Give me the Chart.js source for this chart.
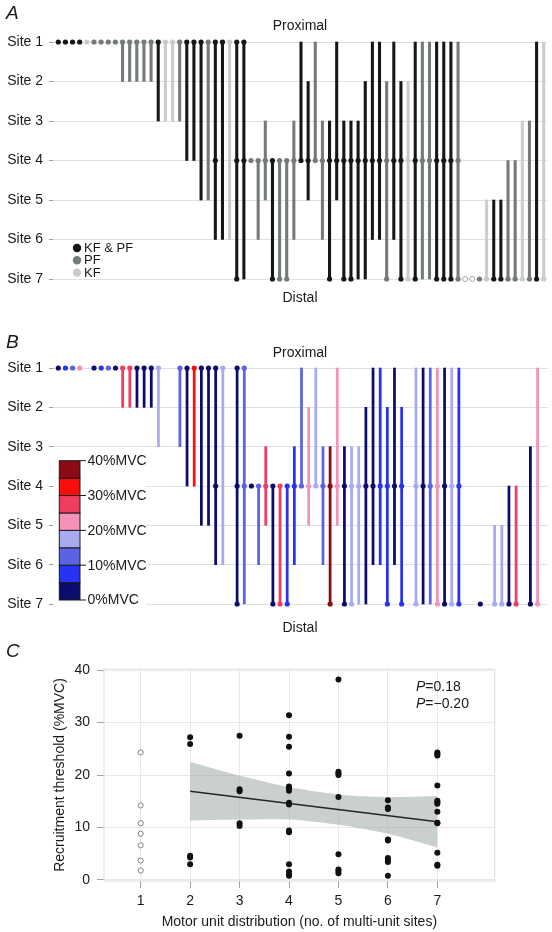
<!DOCTYPE html>
<html lang="en">
<head>
<meta charset="utf-8">
<title>Motor unit distribution</title>
<script src="https://cdn.jsdelivr.net/npm/chart.js@4.4.1/dist/chart.umd.min.js"></script>
<style>
  body { margin: 0; background: #fff; }
  .wrap { position: relative; width: 552px; height: 932px; }
  canvas { position: absolute; left: 0; }
</style>
</head>
<body>
<div class="wrap">
  <canvas id="chartA" width="552" height="318" style="top:0"></canvas>
  <canvas id="chartB" width="552" height="310" style="top:326px"></canvas>
  <canvas id="chartC" width="552" height="296" style="top:636px"></canvas>
</div>
<script>
// ---- panel A / B : one entry per motor unit (column) ----
const siteNums = [1, 2, 3, 4, 5, 6, 7];
const unitTop = [1,1,1,1,1,1,1,1,1, 1,1,1,1,1, 1,1,1,1, 1,1,1,1, 1,1,1, 1,1,
  4,4,3, 4,4,4, 3,1,2,1,3, 3,1,3,3,3,2, 1,1,2,1,2,2, 1,1,1,1,1,1,1,
  7,7,7, 5,5,5, 4,4, 3,3, 1,1];
const unitBottom = [1,1,1,1,1,1,1,1,1, 2,2,2,2,2, 3,3,3,3, 4,4,5,5, 6,6,6, 7,7,
  4,6,5, 7,7,7, 6,4,5,4,6, 7,5,7,7,7,7, 6,6,7,6,7,7, 7,7,7,7,7,7,7,
  7,7,7, 7,7,7, 7,7, 7,7, 7,7];
// 0 = KF & PF, 1 = PF, 2 = KF, 3 = open
const unitGroup = [0,0,0,0,2,1,1,1,1, 1,1,1,1,1, 0,2,2,1, 0,0,0,1, 0,0,2, 0,0,
  1,1,1, 0,1,1, 1,0,0,1,1, 0,0,0,0,0,0, 0,0,1,0,0,2, 0,1,1,0,0,0,1,
  3,3,1, 2,0,0, 1,1, 2,1, 0,2];
const unitDots = [[1],[1],[1],[1],[1],[1],[1],[1],[1], [1],[1],[1],[1],[1], [1],[1],[1],[1],
  [1],[1],[1],[1], [1,4],[1],[1], [1,4,7],[1,4],
  [4],[4],[4], [4,7],[4,7],[4,7], [4],[4],[4],[4],[4], [4,7],[4],[4,7],[4,7],[4],[4],
  [4],[4],[4,7],[4],[4,7],[4,7], [4,7],[4],[4],[4,7],[4,7],[4,7],[4,7],
  [7],[7],[7], [7],[7],[7], [7],[7], [7],[7], [7],[7]];
// recruitment threshold (%MVC) shown in panel B, null = not recorded
const unitThreshold = [2.5,7.5,12.5,22.5,null,2.5,7.5,12.5,2.5, 27.5,27.5,2.5,2.5,2.5,
  17.5,null,null,12.5, 2.5,32.5,2.5,2.5, 2.5,17.5,null, 2.5,12.5,
  2.5,12.5,27.5, 2.5,27.5,7.5, 7.5,12.5,22.5,17.5,12.5, 37.5,22.5,2.5,17.5,17.5,2.5,
  2.5,7.5,7.5,2.5,7.5,null, 17.5,2.5,12.5,22.5,2.5,17.5,7.5,
  null,null,2.5, null,17.5,17.5, 2.5,27.5, null,2.5, 22.5,null];
const groupNames = ['KF & PF', 'PF', 'KF'];
const groupColors = ['#161616', '#747979', '#c9cccc', '#ffffff'];
const mvcLevels = [0, 10, 20, 30, 40];
const mvcColors = ['#0c0c6c', '#2633f0', '#5b63e4', '#a9abf0', '#f492ba', '#ef3d62', '#f90e0e', '#8d0b15'];

// ---- panel C ----
const thr1 = [24.3, 14.2, 10.8, 8.8, 6.6, 3.7, 1.8];
const thr2 = [27.2, 25.9, 4.6, 4.3, 3.0];
const thr3 = [27.5, 17.3, 16.9, 10.8, 10.3];
const thr4 = [31.4, 27.3, 25.4, 20.3, 17.8, 17.5, 17.0, 14.7, 14.4, 9.4, 9.1, 3.0, 1.6, 1.1, 0.8];
const thr5 = [38.2, 20.6, 20.3, 20.0, 15.8, 4.9, 2.0, 1.7, 1.3];
const thr6 = [15.2, 13.8, 13.5, 7.7, 7.5, 4.2, 3.8, 3.4, 0.8];
const thr7 = [24.3, 24.0, 23.7, 18.0, 15.1, 14.8, 14.5, 13.0, 10.9, 10.8, 5.2, 2.9, 2.7];
const fitX = [2, 7];
const fitY = [16.9, 11.1];
const bandX = [2, 3, 4, 5, 6, 7];
const bandHi = [22.5, 19.9, 17.7, 16.3, 15.8, 16.0];
const bandLo = [11.3, 11.5, 11.5, 10.5, 8.8, 6.2];
const xTicksC = [1, 2, 3, 4, 5, 6, 7];
const yTicksC = [0, 10, 20, 30, 40];

Chart.defaults.font.family = '"Liberation Sans", Arial, Helvetica, sans-serif';
Chart.defaults.font.size = 14;
Chart.defaults.color = '#1a1a1a';

function mvcColor(v) {
  return mvcColors[Math.min(7, Math.floor(v / 5))];
}

// texts drawn at fixed spots (panel letters, Proximal / Distal)
const panelText = {
  id: 'panelText',
  afterDraw(chart, args, opts) {
    const ctx = chart.ctx;
    ctx.save();
    ctx.textBaseline = 'middle';
    (opts.items || []).forEach(t => {
      ctx.font = t.font;
      ctx.fillStyle = '#1a1a1a';
      ctx.textAlign = t.align || 'center';
      ctx.fillText(t.text, t.x, t.y);
    });
    ctx.restore();
  }
};
Chart.register(panelText);

function siteOptions(padBottom, items) {
  return {
    responsive: false,
    animation: false,
    events: [],
    layout: { padding: { top: 42, bottom: padBottom, left: 0, right: 2 } },
    plugins: { legend: { display: false }, tooltip: { enabled: false }, panelText: { items } },
    scales: {
      x: { type: 'linear', min: -0.74, max: 68.46, display: false, offset: false, grid: { offset: false } },
      y: {
        type: 'linear', reverse: true, min: 1, max: 7,
        afterFit: s => { s.width = 53; },
        afterBuildTicks: s => { s.ticks = siteNums.map(v => ({ value: v })); },
        ticks: { callback: v => 'Site ' + v, padding: 6 },
        grid: { color: '#e0e0e0', tickColor: '#9a9a9a', tickLength: 4 },
        border: { display: false }
      }
    }
  };
}

function buildUnits(colorOf, keep) {
  const bars = [], dots = [], open = [];
  unitTop.forEach((top, i) => {
    if (!keep(i)) return;
    const c = colorOf(i);
    if (unitBottom[i] > top) bars.push({ x: i, y: [top, unitBottom[i]], c });
    unitDots[i].forEach(s => (unitGroup[i] === 3 && c === groupColors[3] ? open : dots).push({ x: i, y: s, c }));
  });
  return { bars, dots, open };
}

function unitDatasets(u, thick) {
  return [
    { type: 'line', data: u.dots, showLine: false, pointRadius: 2.6, pointBorderWidth: 0,
      pointBackgroundColor: c => c.raw ? c.raw.c : '#000', order: 0, clip: false },
    { type: 'line', data: u.open, showLine: false, pointRadius: 2.5, pointBorderWidth: 1,
      pointBorderColor: '#a6aaaa', pointBackgroundColor: '#ffffff', order: 0, clip: false },
    { type: 'bar', data: u.bars, backgroundColor: c => c.raw ? c.raw.c : '#000',
      barThickness: thick, borderWidth: 0, order: 1, clip: false }
  ];
}

// ---- A ----
const unitsA = buildUnits(i => groupColors[unitGroup[i]], () => true);
new Chart(document.getElementById('chartA'), {
  type: 'bar',
  data: { datasets: unitDatasets(unitsA, 2.4) },
  options: siteOptions(39, [
    { text: 'A', x: 6, y: 14, font: 'italic 19px "Liberation Sans", Arial', align: 'left' },
    { text: 'Proximal', x: 300, y: 26, font: '14px "Liberation Sans", Arial' },
    { text: 'Distal', x: 300, y: 298, font: '14px "Liberation Sans", Arial' }
  ]),
  plugins: [{
    id: 'legendA',
    afterDraw(chart) {
      const ctx = chart.ctx;
      ctx.save();
      groupNames.forEach((name, k) => {
        const y = 248 + k * 12.3;
        ctx.beginPath();
        ctx.arc(77, y, 4.2, 0, Math.PI * 2);
        ctx.fillStyle = groupColors[k];
        ctx.fill();
        ctx.fillStyle = '#1a1a1a';
        ctx.font = '13px "Liberation Sans", Arial';
        ctx.textAlign = 'left';
        ctx.textBaseline = 'middle';
        ctx.fillText(name, 84, y + 0.5);
      });
      ctx.restore();
    }
  }]
});

// ---- B ----
const unitsB = buildUnits(i => mvcColor(unitThreshold[i]), i => unitThreshold[i] !== null);
new Chart(document.getElementById('chartB'), {
  type: 'bar',
  data: { datasets: unitDatasets(unitsB, 2.1) },
  options: siteOptions(32, [
    { text: 'B', x: 6, y: 17, font: 'italic 19px "Liberation Sans", Arial', align: 'left' },
    { text: 'Proximal', x: 300, y: 27, font: '14px "Liberation Sans", Arial' },
    { text: 'Distal', x: 300, y: 302, font: '14px "Liberation Sans", Arial' }
  ]),
  plugins: [{
    id: 'colorbarB',
    beforeDatasetsDraw(chart) {
      const ctx = chart.ctx;
      ctx.save();
      ctx.fillStyle = '#ffffff';
      ctx.fillRect(53, 124, 93, chart.height - 124);
      ctx.restore();
    },
    afterDraw(chart) {
      const ctx = chart.ctx;
      const x0 = 59.3, w = 20.7, top = 134.7, bottom = 274;
      const h = (bottom - top) / mvcColors.length;
      ctx.save();
      ctx.strokeStyle = '#1c1c1c';
      ctx.lineWidth = 1;
      mvcColors.forEach((col, k) => {
        const y = bottom - (k + 1) * h;
        ctx.fillStyle = col;
        ctx.fillRect(x0, y, w, h);
        ctx.strokeRect(x0, y, w, h);
      });
      ctx.font = '14px "Liberation Sans", Arial';
      ctx.textAlign = 'left';
      ctx.textBaseline = 'middle';
      mvcLevels.forEach(lv => {
        const y = bottom - lv / 40 * (bottom - top);
        ctx.beginPath();
        ctx.moveTo(x0 + w, y);
        ctx.lineTo(x0 + w + 6, y);
        ctx.stroke();
        ctx.fillStyle = '#1a1a1a';
        ctx.fillText(lv + '%MVC', x0 + w + 7.5, y + 0.5);
      });
      ctx.restore();
    }
  }]
});

// ---- C ----
const filledC = [];
[thr2, thr3, thr4, thr5, thr6, thr7].forEach((arr, k) => arr.forEach(v => filledC.push({ x: k + 2, y: v })));
const openC = thr1.map(v => ({ x: 1, y: v }));
new Chart(document.getElementById('chartC'), {
  type: 'scatter',
  data: {
    datasets: [
      { data: filledC, pointRadius: 3, pointBackgroundColor: '#111111', pointBorderWidth: 0, order: 1 },
      { data: openC, pointRadius: 2.6, pointBackgroundColor: '#ffffff', pointBorderColor: '#808080', pointBorderWidth: 1, order: 1 },
      { data: fitX.map((x, i) => ({ x, y: fitY[i] })), showLine: true, borderColor: '#262626', borderWidth: 1.6, pointRadius: 0, order: 2 },
      { data: bandX.map((x, i) => ({ x, y: bandHi[i] })), showLine: true, fill: '+1', backgroundColor: 'rgba(150,160,160,0.5)',
        borderWidth: 0, pointRadius: 0, tension: 0.3, order: 3 },
      { data: bandX.map((x, i) => ({ x, y: bandLo[i] })), showLine: true, borderWidth: 0, pointRadius: 0, tension: 0.3, order: 3 }
    ]
  },
  options: {
    responsive: false,
    animation: false,
    events: [],
    layout: { padding: { top: 33, right: 57.3, left: 0, bottom: 0 } },
    plugins: {
      legend: { display: false },
      tooltip: { enabled: false },
      panelText: { items: [{ text: 'C', x: 6, y: 16, font: 'italic 19px "Liberation Sans", Arial', align: 'left' }] }
    },
    scales: {
      x: {
        type: 'linear', min: 0.258, max: 8.16,
        afterBuildTicks: s => { s.ticks = xTicksC.map(v => ({ value: v })); },
        afterFit: s => { s.height = 51; },
        ticks: { padding: 5 },
        grid: { color: '#e8e8e8', tickColor: '#a0a0a0', tickLength: 7 },
        border: { display: false },
        title: { display: true, text: 'Motor unit distribution (no. of multi-unit sites)', padding: { top: 0, bottom: 1 } }
      },
      y: {
        type: 'linear', min: -0.2, max: 40.2,
        afterBuildTicks: s => { s.ticks = yTicksC.map(v => ({ value: v })); },
        afterFit: s => { s.width = 104; },
        ticks: { padding: 7 },
        grid: { color: '#e8e8e8', tickColor: '#a0a0a0', tickLength: 7 },
        border: { display: false },
        title: { display: true, text: 'Recruitment threshold (%MVC)', padding: { top: 51.6, bottom: 0 } }
      }
    }
  },
  plugins: [{
    id: 'frameC',
    beforeDatasetsDraw(chart) {
      const a = chart.chartArea, ctx = chart.ctx;
      ctx.save();
      ctx.strokeStyle = '#dcdcdc';
      ctx.lineWidth = 1;
      ctx.strokeRect(a.left, a.top, a.right - a.left, a.bottom - a.top);
      ctx.restore();
    },
    afterDraw(chart) {
      const ctx = chart.ctx;
      ctx.save();
      ctx.textBaseline = 'middle';
      ctx.textAlign = 'left';
      [['=0.18', 51], ['=\u22120.20', 68]].forEach(([rest, y]) => {
        ctx.font = 'italic 14px "Liberation Sans", Arial';
        ctx.fillStyle = '#1a1a1a';
        ctx.fillText('P', 416, y);
        const w = ctx.measureText('P').width;
        ctx.font = '14px "Liberation Sans", Arial';
        ctx.fillText(rest, 416 + w, y);
      });
      ctx.restore();
    }
  }]
});
</script>
</body>
</html>
